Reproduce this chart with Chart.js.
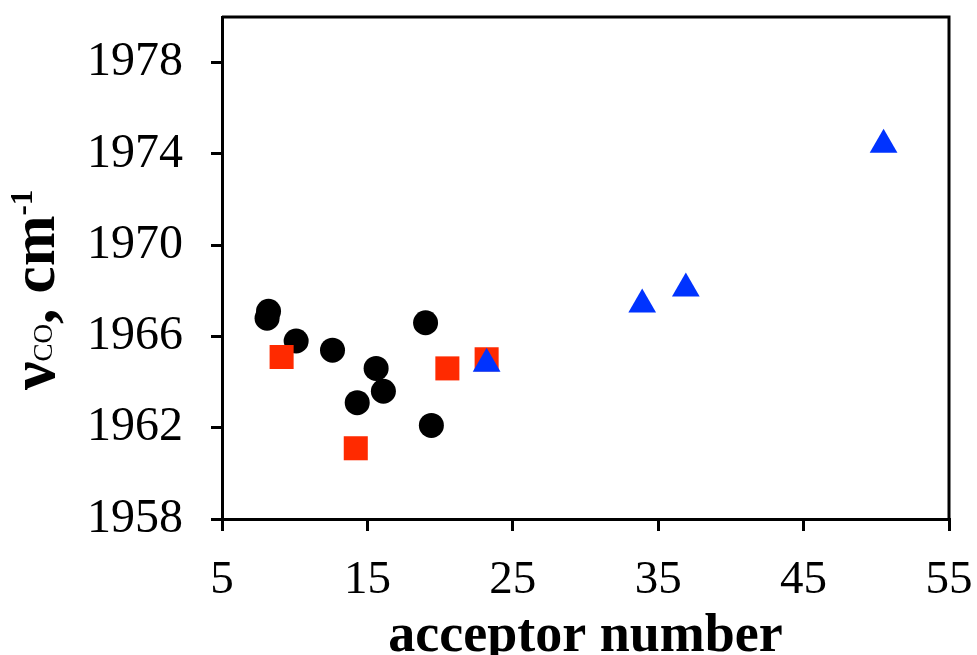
<!DOCTYPE html>
<html>
<head>
<meta charset="utf-8">
<script src="https://cdn.jsdelivr.net/npm/chart.js@4"></script>
<style>
  html, body { margin: 0; padding: 0; background: #fff; overflow: hidden; }
  #wrap { width: 977px; height: 655px; overflow: hidden; }
</style>
</head>
<body>
<div id="wrap"><canvas id="grafico" width="977" height="655"></canvas></div>
<script>
// Dados (número aceptor x frequência do CO)
const pretoX = [8.2, 8.1, 10.1, 12.6, 15.6, 16.1, 14.3, 19.0, 19.4];
const pretoY = [1967.1, 1966.8, 1965.8, 1965.4, 1964.6, 1963.6, 1963.1, 1966.6, 1962.1];

const vermelhoX = [9.1, 14.2, 20.5, 23.2];
const vermelhoY = [1965.1, 1961.1, 1964.6, 1965.0];

const azulX = [23.2, 33.9, 36.9, 50.5];
const azulY = [1964.8, 1967.4, 1968.1, 1974.4];

// Marcas dos eixos
const ticksX = [5, 15, 25, 35, 45, 55];
const ticksY = [1958, 1962, 1966, 1970, 1974, 1978];

const tituloX = "acceptor number";

function pontos(xs, ys) {
    return xs.map((x, i) => ({ x: x, y: ys[i] }));
}

// Desenha a moldura e o título do eixo Y (com subscrito e sobrescrito)
const moldura = {
    id: "moldura",
    afterDraw(chart) {
        const ctx = chart.ctx;
        const a = chart.chartArea;
        ctx.save();
        ctx.strokeStyle = "#000";
        ctx.lineWidth = 3;
        ctx.beginPath();
        ctx.moveTo(a.left, a.top);
        ctx.lineTo(a.right, a.top);
        ctx.lineTo(a.right, a.bottom);
        ctx.stroke();

        // título do eixo Y girado
        ctx.translate(54, 390);
        ctx.rotate(-Math.PI / 2);
        ctx.fillStyle = "#000";
        ctx.textBaseline = "alphabetic";
        ctx.textAlign = "left";
        let x = 0;
        const partes = [
            { t: "ν", f: "bold 64px 'Liberation Serif'", dy: 0 },
            { t: "CO", f: "27px 'Liberation Serif'", dy: -2 },
            { t: ", cm", f: "bold 61px 'Liberation Serif'", dy: 0 },
            { t: "-1", f: "bold 31px 'Liberation Serif'", dy: -22 }
        ];
        partes.forEach(p => {
            ctx.font = p.f;
            ctx.fillText(p.t, x, p.dy);
            x += ctx.measureText(p.t).width;
        });
        ctx.restore();
    }
};

const ctx = document.getElementById("grafico");

new Chart(ctx, {
    type: "scatter",
    data: {
        datasets: [
            {
                data: pontos(pretoX, pretoY),
                order: 2,
                pointStyle: "circle",
                pointRadius: 12.5,
                backgroundColor: "#000",
                borderColor: "#000",
                borderWidth: 0
            },
            {
                data: pontos(vermelhoX, vermelhoY),
                order: 1,
                pointStyle: "rect",
                pointRadius: 17,
                backgroundColor: "#ff2a00",
                borderColor: "#ff2a00",
                borderWidth: 0
            },
            {
                data: pontos(azulX, azulY),
                order: 0,
                pointStyle: "triangle",
                pointRadius: 16,
                backgroundColor: "#0033ff",
                borderColor: "#0033ff",
                borderWidth: 0
            }
        ]
    },
    options: {
        responsive: false,
        animation: false,
        layout: { padding: { top: 13, right: 28, left: 0, bottom: 0 } },
        plugins: {
            legend: { display: false },
            tooltip: { enabled: false }
        },
        scales: {
            x: {
                type: "linear",
                min: 5,
                max: 55,
                afterBuildTicks: s => { s.ticks = ticksX.map(v => ({ value: v })); },
                afterFit: s => {
                    s.height = 136;
                    s.paddingLeft = 0;
                    s.paddingRight = 0;
                },
                border: { color: "#000", width: 3 },
                grid: { drawOnChartArea: false, color: "#000", lineWidth: 3, tickLength: 12 },
                ticks: {
                    color: "#000",
                    padding: 21,
                    maxRotation: 0,
                    callback: v => String(v),
                    font: { family: "'Liberation Serif'", size: 47 }
                },
                title: {
                    display: true,
                    text: tituloX,
                    color: "#000",
                    padding: { top: 0, bottom: 0 },
                    font: { family: "'Liberation Serif'", size: 54, weight: "bold", lineHeight: 0.65 }
                }
            },
            y: {
                type: "linear",
                min: 1958,
                max: 1980,
                afterBuildTicks: s => { s.ticks = ticksY.map(v => ({ value: v })); },
                afterFit: s => {
                    s.width = 222;
                    s.paddingTop = 0;
                    s.paddingBottom = 0;
                },
                border: { color: "#000", width: 3 },
                grid: { drawOnChartArea: false, color: "#000", lineWidth: 3, tickLength: 11 },
                ticks: {
                    color: "#000",
                    padding: 28,
                    callback: v => String(v),
                    font: { family: "'Liberation Serif'", size: 48 }
                }
            }
        }
    },
    plugins: [moldura]
});
</script>
</body>
</html>
